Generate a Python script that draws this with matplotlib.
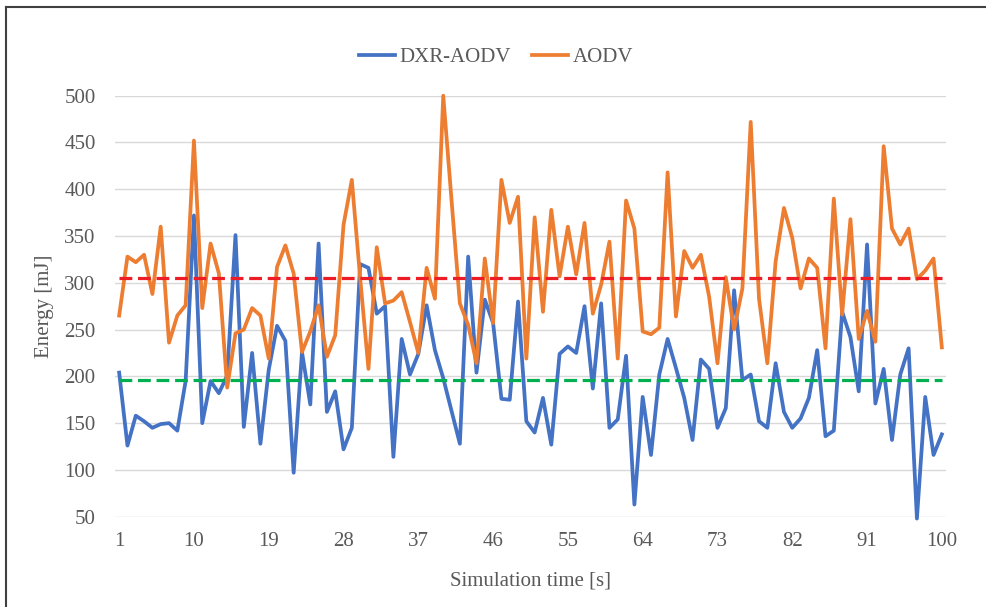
import matplotlib
matplotlib.use("Agg")
import matplotlib.pyplot as plt
from matplotlib.lines import Line2D

plt.rcParams['font.family'] = ['Liberation Serif', 'DejaVu Serif']

time_s = list(range(1, 101))
dxr_aodv = [204, 126, 158, 152, 145, 149, 150, 142, 195, 372,
            150, 195, 182, 201, 351, 146, 225, 128, 207, 254,
            238, 97, 226, 170, 342, 162, 184, 122, 145, 320,
            316, 267, 275, 114, 240, 202, 224, 276, 228, 198,
            163, 128, 328, 204, 282, 257, 176, 175, 280, 152,
            140, 177, 127, 224, 232, 225, 275, 187, 278, 145,
            154, 222, 63, 178, 116, 202, 240, 209, 177, 132,
            218, 208, 145, 166, 292, 196, 202, 152, 145, 214,
            162, 145, 155, 177, 228, 136, 142, 269, 242, 184,
            341, 171, 208, 132, 202, 230, 48, 178, 116, 138]
aodv = [265, 328, 322, 330, 288, 360, 236, 265, 276, 452,
        273, 342, 310, 188, 246, 250, 273, 265, 219, 317,
        340, 310, 226, 248, 276, 221, 244, 362, 410, 305,
        208, 338, 278, 281, 290, 258, 225, 316, 283, 500,
        388, 278, 255, 214, 326, 257, 410, 364, 392, 219,
        370, 269, 378, 307, 360, 309, 364, 267, 298, 344,
        219, 388, 358, 248, 245, 252, 418, 264, 334, 316,
        330, 285, 214, 306, 250, 294, 472, 283, 214, 323,
        380, 348, 294, 326, 316, 230, 390, 266, 368, 240,
        270, 237, 446, 358, 341, 358, 304, 313, 326, 231]
aodv_avg = 305
dxr_avg = 196
xtick_vals = [1, 10, 19, 28, 37, 46, 55, 64, 73, 82, 91, 100]
ytick_vals = [50, 100, 150, 200, 250, 300, 350, 400, 450, 500]

W, H = 987, 607
fig = plt.figure(figsize=(W / 100, H / 100), dpi=100)
ax = fig.add_axes([115 / W, 1 - 516.7 / H, (946 - 115) / W, (516.7 - 95.7) / H])

ax.plot(time_s, dxr_aodv, color='#4472C4', lw=2.7, label='DXR-AODV',
        solid_joinstyle='round', clip_on=False, zorder=3)
ax.plot(time_s, aodv, color='#ED7D31', lw=2.7, label='AODV',
        solid_joinstyle='round', clip_on=False, zorder=3)
ax.plot([time_s[0], time_s[-1]], [aodv_avg, aodv_avg], color='#EE1C25',
        lw=2.3, dashes=(4, 1.8), zorder=4)
ax.plot([time_s[0], time_s[-1]], [dxr_avg, dxr_avg], color='#00B050',
        lw=2.3, dashes=(4, 1.8), zorder=4)

ax.set_xlim(0.5, 100.5)
ax.set_ylim(50, 500)
ax.set_xticks(xtick_vals)
ax.set_yticks(ytick_vals)
for s in ax.spines.values():
    s.set_visible(False)
ax.grid(axis='y', color='#D9D9D9', lw=1.0)
ax.set_axisbelow(True)
ax.tick_params(axis='both', length=0, labelsize=15, colors='#595959')
ax.tick_params(axis='x', pad=11)
ax.tick_params(axis='y', pad=14)
ax.set_xlabel('Simulation time [s]', fontsize=15, color='#595959', labelpad=15)
ax.set_ylabel('Energy [mJ]', fontsize=15, color='#595959', labelpad=7)

leg = fig.legend(loc='center', bbox_to_anchor=(496 / W, 1 - 57 / H), ncol=2,
                 frameon=False, fontsize=15, handlelength=1.75, handletextpad=0.2,
                 columnspacing=1.0, borderpad=0.2)
for t in leg.get_texts():
    t.set_color('#595959')

# chart border (partially cropped in the reference)
fig.add_artist(Line2D([6 / W, 1.0], [1 - 7 / H, 1 - 7 / H], color='#404040', lw=1.5,
                      transform=fig.transFigure))
fig.add_artist(Line2D([6 / W, 6 / W], [0.0, 1 - 7 / H], color='#404040', lw=1.5,
                      transform=fig.transFigure))

fig.savefig('out.png', dpi=100)
